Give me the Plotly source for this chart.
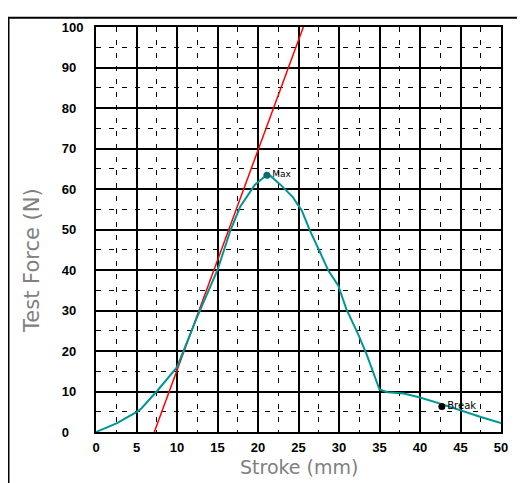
import plotly.graph_objects as go

# Data
stroke = [0, 1, 2.6, 4, 5, 5.6, 7.7, 10, 12.4, 15, 16.6, 17.8, 19.6, 20.9, 21.5, 22.7,
          24.3, 25.4, 26.4, 27.7, 28.7, 29.9, 30.9, 32.4, 33.4, 35, 36, 38, 40, 42.5,
          45, 47.5, 50]
force = [0, 0.8, 2.2, 3.8, 4.9, 5.8, 10.5, 16, 28, 40, 49.8, 55.6, 61, 63.2, 63.3, 61.2,
         58, 54.7, 49.8, 44.2, 39.8, 36.2, 30.4, 24, 19.2, 10.5, 9.8, 9.5, 8.5, 7,
         5.3, 3.7, 2.2]

tangent_x = [7.2, 25.6]
tangent_y = [0, 100]

max_x, max_y, max_label = [21.1], [63.4], ["Max"]
break_x, break_y, break_label = [42.7], [6.3], ["Break"]

x_ticks = [0, 5, 10, 15, 20, 25, 30, 35, 40, 45, 50]
y_ticks = [0, 10, 20, 30, 40, 50, 60, 70, 80, 90, 100]
# left-aligned y tick labels (padded with figure spaces)
y_ticktext = [str(v) + "\u2007" * (3 - len(str(v))) for v in y_ticks]

x_title = "Stroke (mm)"
y_title = "Test Force (N)"

TEAL = "rgb(0,150,150)"

# page body has an 8px margin; plot area spans page x 96..501, y 20..432
L, T, PW, PH = 88, 12, 405, 412

fig = go.Figure()
fig.add_trace(go.Scatter(x=tangent_x, y=tangent_y, mode="lines",
                         line=dict(color="red", width=1.5), cliponaxis=True,
                         hoverinfo="skip"))
fig.add_trace(go.Scatter(x=stroke, y=force, mode="lines",
                         line=dict(color=TEAL, width=2)))
fig.add_trace(go.Scatter(x=max_x, y=max_y, mode="markers+text", text=max_label,
                         textposition="middle right",
                         textfont=dict(size=9, color="black", family="DejaVu Sans"),
                         marker=dict(color="rgb(0,110,110)", size=7)))
fig.add_trace(go.Scatter(x=break_x, y=break_y, mode="markers+text", text=break_label,
                         textposition="middle right",
                         textfont=dict(size=10, color="black", family="DejaVu Sans"),
                         marker=dict(color="black", size=7)))

axis_common = dict(
    showline=True, linecolor="black", linewidth=2, mirror=True,
    showgrid=True, gridcolor="black", gridwidth=2,
    zeroline=False, ticks="",
    tickfont=dict(family="Arial", size=13, color="black", weight="bold"),
)

fig.update_xaxes(range=[0, 50], tickvals=x_ticks, ticktext=[str(v) for v in x_ticks],
                 ticklabelstandoff=2,
                 minor=dict(dtick=2.5, tick0=0, showgrid=True, gridcolor="black",
                            gridwidth=1, griddash="5px,8px"),
                 **axis_common)
fig.update_yaxes(range=[0, 100], tickvals=y_ticks, ticktext=y_ticktext,
                 ticklabelstandoff=8,
                 minor=dict(dtick=5, tick0=0, showgrid=True, gridcolor="black",
                            gridwidth=1, griddash="5px,8px"),
                 **axis_common)

# outer frame (top and left edges visible), page x=8, y=10.5
fig.add_shape(type="rect", xref="paper", yref="paper",
              x0=(8.5 - 96) / PW, x1=(560 - 96) / PW,
              y0=(432 - 520) / PH, y1=(432 - 10.5) / PH,
              line=dict(color="black", width=2), layer="below")

fig.add_annotation(text=x_title, xref="paper", yref="paper", x=(299 - 96) / PW,
                   y=(432 - 468) / PH, xanchor="center", yanchor="middle",
                   showarrow=False,
                   font=dict(family="DejaVu Sans", size=19, color="rgb(128,128,128)"))
fig.add_annotation(text=y_title, xref="paper", yref="paper", x=(32 - 96) / PW,
                   y=(432 - 258) / PH, xanchor="center", yanchor="middle", textangle=-90,
                   showarrow=False,
                   font=dict(family="DejaVu Sans", size=21, color="rgb(128,128,128)"))

fig.update_layout(
    width=517, height=475,
    margin=dict(l=L, r=517 - L - PW, t=T, b=475 - T - PH),
    paper_bgcolor="white", plot_bgcolor="white",
    showlegend=False,
)

fig.write_html("out.html")
